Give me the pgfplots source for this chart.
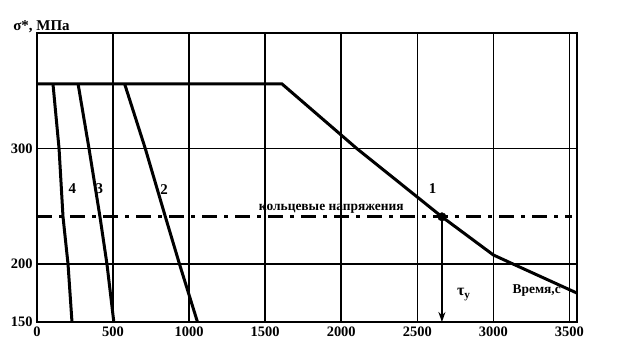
\documentclass[border=0pt]{standalone}
\usepackage{fontspec}
\setmainfont{Liberation Serif}
\usepackage{pgfplots}
\pgfplotsset{compat=1.18}
\usetikzlibrary{arrows.meta}
\begin{document}
\begin{tikzpicture}
\begin{axis}[
  name=ax,
  scale only axis,
  width=540bp, height=289bp,
  xmin=0, xmax=3550, ymin=150, ymax=400,
  xtick={0,500,1000,1500,2000,2500,3000,3500},
  ytick={150,200,300},
  grid=major,
  major grid style={black, line width=1.5bp},
  major tick length=0pt,
  axis line style={black, line width=2bp},
  tick label style={font=\bfseries\fontsize{14.5}{16}\selectfont},
  /pgf/number format/assume math mode=true,
  /pgf/number format/1000 sep={},
  xticklabel style={yshift=-1bp},
  yticklabel style={xshift=-1bp},
  clip=false,
]
% curve 1
\addplot[black, line width=3bp] coordinates {
  (0,356) (1610,356) (2103,300) (2662,241) (3000,208) (3132,200) (3550,175)};
% curve 2
\addplot[black, line width=3bp] coordinates {
  (576,356) (712,300) (844,241) (937,200) (1055,150)};
% curve 3
\addplot[black, line width=3bp] coordinates {
  (270,356) (342,300) (414,241) (460,200) (505,150)};
% curve 4
\addplot[black, line width=3bp] coordinates {
  (105,356) (145,300) (171,241) (204,200) (230,150)};
% hoop stress line
\addplot[black, line width=3.3bp, dash pattern=on 15bp off 7bp on 4bp off 7bp] coordinates {
  (0,241) (3520,241)};
% arrow
\addplot[black, line width=2.6bp, -{Stealth[length=10bp,width=7bp]}] coordinates {
  (2662,241) (2662,150)};
\addplot[black, only marks, mark=*, mark size=4.2bp] coordinates {(2662,241)};
% labels
\node[font=\bfseries\fontsize{15}{17}\selectfont] at (axis cs:232,265) {4};
\node[font=\bfseries\fontsize{15}{17}\selectfont] at (axis cs:410,265) {3};
\node[font=\bfseries\fontsize{15}{17}\selectfont] at (axis cs:835,265) {2};
\node[font=\bfseries\fontsize{15}{17}\selectfont] at (axis cs:2600,265) {1};
\node[font=\bfseries\fontsize{13.5}{15}\selectfont] at (axis cs:1935,248) {кольцевые напряжения};
\node[font=\bfseries\fontsize{16}{18}\selectfont] at (axis cs:2806,174) {τ\textsubscript{y}};
\node[font=\bfseries\fontsize{13.5}{16}\selectfont] at (axis cs:3285,177) {Время,с};
\node[font=\bfseries\fontsize{15}{17}\selectfont, anchor=south west, inner sep=1bp] at (rel axis cs:-0.046,0.995) {σ*, МПа};
\end{axis}
\pgfresetboundingbox
\path[use as bounding box] ([xshift=-37bp,yshift=-29bp]ax.south west) rectangle ([xshift=585bp,yshift=322bp]ax.south west);
\end{tikzpicture}
\end{document}
